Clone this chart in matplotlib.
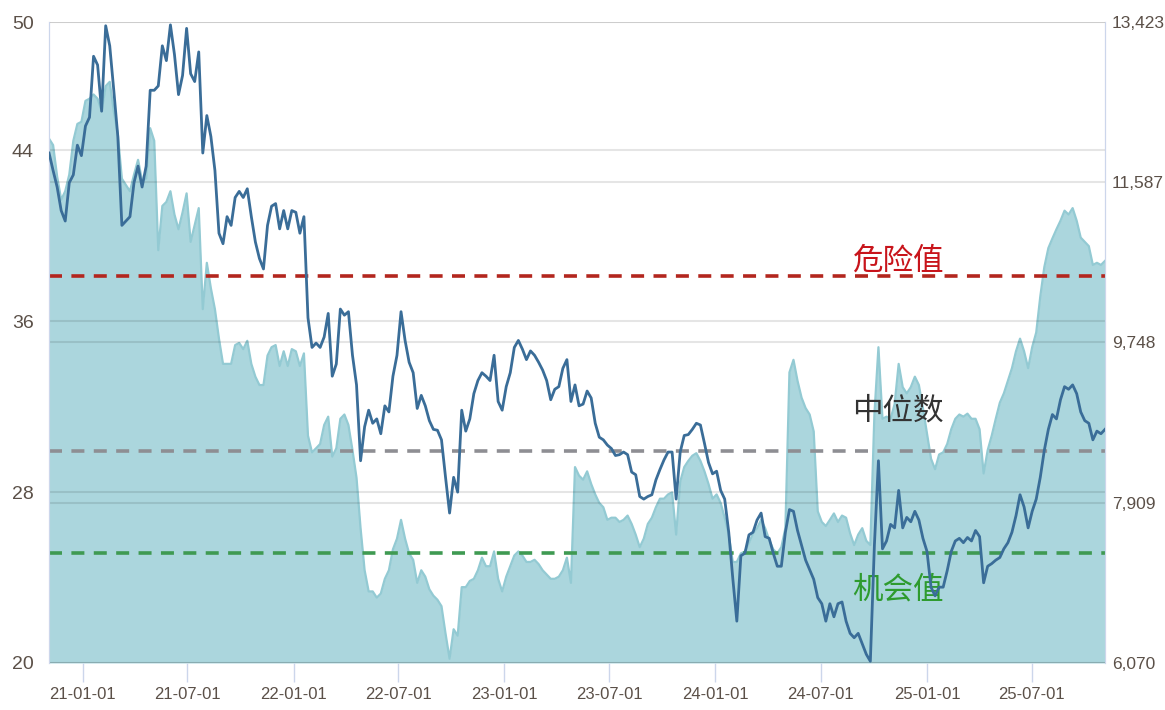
#!/usr/bin/env python3
import matplotlib
matplotlib.use("Agg")
import matplotlib.pyplot as plt
import matplotlib.dates as mdates
import pandas as pd

# weekly samples
START = "2020-11-04"
N_WEEKS = 262

# PE (left axis, filled area)
PE = [
    44.54, 44.24, 42.77, 41.68, 42.08, 42.86, 44.44, 45.23, 45.33, 46.31,
    46.41, 46.61, 46.41, 45.82, 47.0, 47.2, 45.82, 44.74, 42.67, 42.37,
    42.08, 42.86, 43.55, 42.57, 42.67, 45.03, 44.44, 39.32, 41.39, 41.58,
    42.08, 40.99, 40.3, 41.09, 41.98, 39.71, 40.5, 41.29, 36.56, 38.73,
    37.54, 36.56, 35.18, 34.0, 34.0, 34.0, 34.88, 34.98, 34.69, 35.08,
    34.0, 33.4, 33.01, 33.01, 34.39, 34.78, 34.88, 33.9, 34.59, 33.9,
    34.69, 34.59, 33.9, 34.49,
    30.64, 29.86, 30.05, 30.25, 31.14, 31.53, 29.66, 30.05, 31.43, 31.63,
    31.14, 29.96, 28.67, 26.31, 24.34, 23.35, 23.35, 23.06, 23.25, 23.94,
    24.34, 25.32, 25.82, 26.7, 25.82, 25.13, 24.83, 23.75, 24.34, 24.04,
    23.45, 23.15, 22.96, 22.66, 21.38, 20.2, 21.58, 21.28, 23.55, 23.55,
    23.84, 23.94, 24.34, 24.93, 24.53, 24.53, 25.22, 23.94, 23.35, 24.04,
    24.53, 25.03, 25.22, 25.03, 24.73, 24.73, 24.83, 24.63, 24.34, 24.14,
    23.94, 23.94, 24.04, 24.34,
    24.93, 23.75, 29.17, 28.77, 28.58, 28.97, 28.38, 27.89, 27.49, 27.29,
    26.7, 26.8, 26.8, 26.6, 26.7, 26.9, 26.51, 26.01, 25.42, 25.82,
    26.51, 26.8, 27.29, 27.69, 27.69, 27.89, 27.98, 26.01, 28.48, 29.17,
    29.46, 29.7, 29.82, 29.46, 28.97, 28.38, 27.69, 27.89, 27.49, 26.8,
    26.01, 24.73, 24.73, 25.13, 25.22, 25.62, 26.07, 26.31, 26.7, 26.31,
    25.76, 25.32, 25.13, 25.42, 26.31, 33.6, 34.19, 33.21, 32.42, 31.93,
    31.63, 30.84, 27.1,
    26.6, 26.41, 26.7, 27.0, 26.6, 26.9, 26.8, 26.07, 25.52, 26.01,
    26.31, 25.72, 25.52, 31.63, 34.78, 31.43, 31.53, 31.43, 32.12, 34.0,
    32.91, 32.62, 32.91, 33.4, 33.01, 31.93, 30.74, 29.56, 29.07, 29.76,
    29.86, 30.25, 30.94, 31.43, 31.63, 31.53, 31.67, 31.43, 31.43, 30.94,
    28.87, 29.96, 30.64, 31.43, 32.18, 32.62, 33.21, 33.8, 34.59, 35.18,
    34.59, 33.8, 34.78, 35.47, 37.15, 38.53, 39.42, 39.87, 40.3, 40.7,
    41.17, 40.99, 41.29, 40.7, 39.91, 39.71, 39.51, 38.63, 38.73, 38.63,
    38.82,
]

# index close (right axis, line)
INDEX = [
    11920, 11720, 11530, 11260, 11140, 11580, 11670, 12010, 11890, 12230,
    12330, 13030, 12930, 12400, 13380, 13150, 12640, 12110, 11090, 11140,
    11190, 11580, 11770, 11530, 11770, 12640, 12640, 12690, 13150, 12980,
    13390, 13050, 12590, 12810, 13350, 12830, 12740, 13080, 11920, 12350,
    12110, 11720, 11000, 10880, 11190, 11090, 11410, 11480, 11410, 11510,
    11190, 10900, 10710, 10590, 11090, 11310, 11340, 11050, 11260, 11050,
    11260, 11240, 11000, 11190,
    10030, 9690, 9740, 9690, 9810, 10080, 9360, 9500, 10130, 10060,
    10100, 9600, 9260, 8390, 8780, 8970, 8820, 8870, 8700, 9020,
    8950, 9360, 9600, 10100, 9770, 9520, 9400, 8990, 9140, 9020,
    8850, 8750, 8740, 8630, 8200, 7790, 8200, 8030, 8970, 8730,
    8870, 9160, 9310, 9400, 9360, 9310, 9600, 9070, 8970, 9240,
    9400, 9690, 9770, 9670, 9550, 9650, 9600, 9520, 9430, 9310,
    9090, 9210, 9240, 9450,
    9550, 9070, 9260, 9020, 9040, 9190, 9110, 8820, 8660, 8630,
    8570, 8530, 8450, 8460, 8490, 8460, 8260, 8230, 7980, 7950,
    7980, 8000, 8170, 8290, 8400, 8490, 8490, 7950, 8490, 8680,
    8690, 8750, 8820, 8800, 8590, 8370, 8240, 8270, 8050, 7950,
    7570, 7040, 6550, 7300, 7330, 7540, 7570, 7710, 7790, 7520,
    7500, 7330, 7180, 7180, 7570, 7830, 7810, 7590, 7420, 7250,
    7140, 7030, 6820,
    6750, 6550, 6750, 6600, 6750, 6770, 6550, 6410, 6360, 6410,
    6290, 6170, 6090, 7420, 8390, 7380, 7470, 7660, 7620, 8050,
    7620, 7740, 7690, 7810, 7710, 7500, 7350, 6940, 6840, 6940,
    6940, 7130, 7350, 7470, 7500, 7450, 7510, 7470, 7590, 7520,
    6990, 7180, 7210, 7250, 7280, 7380, 7450, 7570, 7760, 8000,
    7860, 7620, 7810, 7950, 8200, 8510, 8750, 8920, 8870, 9090,
    9240, 9210, 9260, 9160, 8950, 8850, 8820, 8630, 8730, 8700,
    8750,
]

LEVELS = [38.09, 29.92, 25.13]
LEVEL_NAMES = ["危险值", "中位数", "机会值"]
LEVEL_COLORS = ["#b3261e", "#8e8e93", "#3f9a52"]
TEXT_COLORS = ["#c8141b", "#333333", "#2e9b2e"]
TEXT_Y = [38.8, 31.8, 23.4]
TEXT_X = "2024-11-12"

LEFT_TICKS = [20, 28, 36, 44, 50]
RIGHT_TICKS = [6070, 7909, 9748, 11587, 13423]
DATE_TICKS = ["2021-01-01", "2021-07-01", "2022-01-01", "2022-07-01", "2023-01-01",
              "2023-07-01", "2024-01-01", "2024-07-01", "2025-01-01", "2025-07-01"]

TICK_FONT = ["Liberation Sans", "DejaVu Sans"]
CJK_FONT = ["Noto Sans CJK SC", "DejaVu Sans"]
LABEL_COLOR = "#5b5048"
SPINE_COLOR = "#ccd6eb"


def main() -> None:
    dates = pd.date_range(START, periods=N_WEEKS, freq="7D")

    fig = plt.figure(figsize=(11.65, 7.10), dpi=100)
    ax = fig.add_axes([0.0421, 0.0662, 0.9064, 0.9028])
    ax2 = ax.twinx()

    ax.fill_between(dates, LEFT_TICKS[0], PE, color="#7fc0cb", alpha=0.65,
                    linewidth=0, zorder=1)
    ax.plot(dates, PE, color="#93cad3", linewidth=1.6, zorder=1.5)

    for level, color in zip(LEVELS, LEVEL_COLORS):
        ax.axhline(level, color=color, linewidth=2.6, dashes=(3.6, 2.6), zorder=3)

    for name, ty, tc in zip(LEVEL_NAMES, TEXT_Y, TEXT_COLORS):
        ax.text(pd.Timestamp(TEXT_X), ty, name, color=tc, fontsize=22,
                family=CJK_FONT, ha="center", va="center", zorder=5)

    ax2.plot(dates, INDEX, color="#3a6d98", linewidth=2.0, zorder=4)

    ax.set_xlim(dates[0], dates[-1])
    ax.set_ylim(LEFT_TICKS[0], LEFT_TICKS[-1])
    ax2.set_ylim(RIGHT_TICKS[0], RIGHT_TICKS[-1])

    ax.set_yticks(LEFT_TICKS)
    ax.set_yticklabels([str(v) for v in LEFT_TICKS])
    ax2.set_yticks(RIGHT_TICKS)
    ax2.set_yticklabels([f"{v:,}" for v in RIGHT_TICKS])

    ax.set_xticks(pd.to_datetime(DATE_TICKS))
    ax.xaxis.set_major_formatter(mdates.DateFormatter("%y-%m-%d"))

    ax.set_axisbelow(False)
    ax.grid(axis="y", color="black", alpha=0.1, linewidth=1.5, zorder=2)
    ax2.grid(axis="y", color="black", alpha=0.1, linewidth=1.5)
    ax.grid(axis="x", visible=False)

    ax.tick_params(axis="y", length=0, pad=11, labelsize=14, labelcolor=LABEL_COLOR)
    ax2.tick_params(axis="y", length=0, pad=5, labelsize=12.5, labelcolor=LABEL_COLOR)
    ax.tick_params(axis="x", length=14, width=1, color=SPINE_COLOR, pad=3,
                   labelsize=12, labelcolor=LABEL_COLOR)
    for lab in ax.get_xticklabels() + ax.get_yticklabels() + ax2.get_yticklabels():
        lab.set_family(TICK_FONT)

    for a in (ax, ax2):
        a.spines["top"].set_visible(False)
        a.spines["bottom"].set_visible(False)
        a.spines["left"].set_color(SPINE_COLOR)
        a.spines["right"].set_color(SPINE_COLOR)
    ax2.patch.set_visible(False)

    fig.savefig("out.png", dpi=100)
    plt.close(fig)


if __name__ == "__main__":
    main()
